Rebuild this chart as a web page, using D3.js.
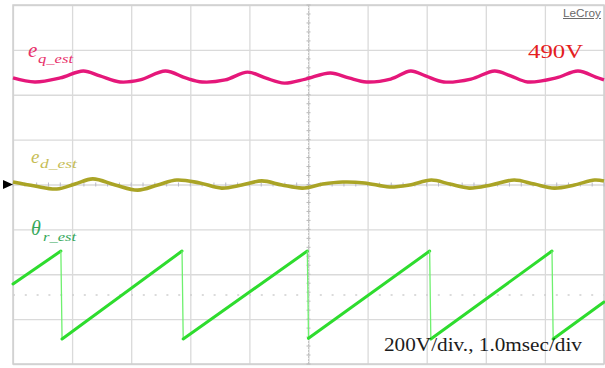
<!DOCTYPE html>
<html>
<head>
<meta charset="utf-8">
<script src="https://cdn.jsdelivr.net/npm/d3@7"></script>
<style>
  html, body { margin: 0; padding: 0; background: #fff; }
  svg { display: block; }
</style>
</head>
<body>
<svg id="scope" width="605" height="368"></svg>
<script>
// Time base: 10 divisions of 1.0 ms; vertical: 8 divisions of 200 V
const timeTicks = [0, 1, 2, 3, 4, 5, 6, 7, 8, 9, 10];
const voltTicks = [-800, -600, -400, -200, 0, 200, 400, 600, 800];

// q-axis back-EMF estimate [ms, V]
const eqEst = [
  [0, 475], [0.37, 457], [0.80, 475], [1.19, 506], [1.47, 484], [1.81, 457],
  [2.15, 466], [2.58, 506], [2.92, 475], [3.20, 457], [3.59, 466], [3.97, 501],
  [4.27, 475], [4.59, 452], [4.95, 470], [5.37, 497], [5.68, 475], [5.98, 457],
  [6.39, 470], [6.73, 506], [6.98, 484], [7.29, 457], [7.75, 470], [8.15, 506],
  [8.42, 484], [8.71, 457], [9.19, 475], [9.56, 506], [9.86, 479], [10, 466]
];

// d-axis back-EMF estimate [ms, V]
const edEst = [
  [0, 11], [0.37, -7], [0.74, -20], [1.05, 2], [1.35, 25], [1.73, -2],
  [2.11, -25], [2.45, -2], [2.77, 20], [3.16, 7], [3.53, -16], [3.87, -2],
  [4.21, 16], [4.55, -2], [4.90, -16], [5.24, 2], [5.58, 11], [5.95, 7],
  [6.37, -11], [6.71, -2], [7.08, 20], [7.39, 2], [7.72, -16], [8.09, -2],
  [8.48, 20], [8.82, 2], [9.16, -16], [9.50, -2], [9.84, 20], [10, 16]
];

// Estimated rotor angle [ms, rad]
const thetaEst = [
  [0, 3.93], [0.81, 6.28], [0.83, 0.0], [2.86, 6.28], [2.88, 0.0],
  [4.98, 6.28], [5.00, 0.05], [7.05, 6.28], [7.07, 0.0], [9.12, 6.28],
  [9.14, 0.0], [10, 2.64]
];

const eqLevel = "490V";
const scaleNote = "200V/div., 1.0msec/div";

const svg = d3.select("#scope");
const L = 13, R = 604, T = 5, B = 364;

const x = d3.scaleLinear().domain([0, 10]).range([L, R]);
const y = d3.scaleLinear().domain([-800, 800]).range([B, T]);
const yTheta = d3.scaleLinear().domain([0, 2 * Math.PI]).range([339, 251]);

// graticule
const grid = svg.append("g");
grid.append("g")
  .attr("transform", `translate(0,${T})`)
  .call(d3.axisTop(x).tickValues(timeTicks).tickSize(-(B - T)).tickFormat(""))
  .call(g => g.select(".domain").remove())
  .call(g => g.selectAll("line").attr("stroke", "#dadada").attr("stroke-width", 1.3));
grid.append("g")
  .attr("transform", `translate(${L},0)`)
  .call(d3.axisLeft(y).tickValues(voltTicks).tickSize(-(R - L)).tickFormat(""))
  .call(g => g.select(".domain").remove())
  .call(g => g.selectAll("line").attr("stroke", "#dadada").attr("stroke-width", 1.3));
grid.append("rect")
  .attr("x", L).attr("y", T).attr("width", R - L).attr("height", B - T)
  .attr("fill", "none").attr("stroke", "#cfcfcf").attr("stroke-width", 1.5);

// centre crosshair with minor ticks
const minorT = d3.range(0, 10.01, 0.2);
const minorV = d3.range(-800, 800.1, 40);
grid.append("line")
  .attr("x1", x(5)).attr("x2", x(5)).attr("y1", T).attr("y2", B)
  .attr("stroke", "#c4c4c4").attr("stroke-width", 1).attr("stroke-dasharray", "2,1");
grid.selectAll(".vt").data(minorV).join("line")
  .attr("x1", x(5) - 2).attr("x2", x(5) + 2)
  .attr("y1", d => y(d)).attr("y2", d => y(d))
  .attr("stroke", "#b8b8b8");
grid.selectAll(".ht").data(minorT).join("line")
  .attr("x1", d => x(d)).attr("x2", d => x(d))
  .attr("y1", y(0) - 2).attr("y2", y(0) + 2)
  .attr("stroke", "#b8b8c8");

// rotor-angle mid reference (dotted)
grid.append("line")
  .attr("x1", L).attr("x2", R)
  .attr("y1", yTheta(Math.PI)).attr("y2", yTheta(Math.PI))
  .attr("stroke", "#cfcfcf").attr("stroke-width", 1.3)
  .attr("stroke-dasharray", "2,9.8");

// e_d ground marker
svg.append("path")
  .attr("d", d3.line()([[3, y(0) - 4.5], [13, y(0)], [3, y(0) + 4.5]]) + "Z")
  .attr("fill", "#000");

// traces
const curve = d3.curveCatmullRom.alpha(0.5);
const vLine = d3.line().x(d => x(d[0])).y(d => y(d[1])).curve(curve);

svg.append("path").datum(eqEst)
  .attr("d", vLine).attr("fill", "none")
  .attr("stroke", "#e5177a").attr("stroke-width", 3.4)
  .attr("stroke-linejoin", "round");

svg.append("path").datum(edEst)
  .attr("d", vLine).attr("fill", "none")
  .attr("stroke", "#aaa426").attr("stroke-width", 3.6)
  .attr("stroke-linejoin", "round");

// rotor angle: rising ramps thick, wrap-around jumps thin
const pairs = d3.pairs(thetaEst);
svg.selectAll(".th").data(pairs).join("line")
  .attr("x1", d => x(d[0][0])).attr("y1", d => yTheta(d[0][1]))
  .attr("x2", d => x(d[1][0])).attr("y2", d => yTheta(d[1][1]))
  .attr("stroke", d => d[1][1] < d[0][1] ? "#6ff06f" : "#2edc2e")
  .attr("stroke-width", d => d[1][1] < d[0][1] ? 1.3 : 3)
  .attr("stroke-linecap", "round");

// labels
const serif = "'Liberation Serif', 'Times New Roman', serif";
function label(base, sub, opts) {
  svg.append("text")
    .attr("x", opts.x).attr("y", opts.y)
    .attr("font-family", serif).attr("font-style", "italic")
    .attr("font-size", opts.size).attr("fill", opts.color)
    .text(base);
  svg.append("text")
    .attr("x", opts.sx).attr("y", opts.sy)
    .attr("font-family", serif).attr("font-style", "italic")
    .attr("font-size", 12).attr("fill", opts.color)
    .attr("textLength", opts.sw).attr("lengthAdjust", "spacingAndGlyphs")
    .text(sub);
}
label("e", "q_est", { x: 28, y: 57, size: 21, color: "#e8306a", sx: 38, sy: 63, sw: 35 });
label("e", "d_est", { x: 31, y: 163, size: 19, color: "#c6bd55", sx: 40, sy: 168, sw: 37 });
label("θ", "r_est", { x: 31, y: 235, size: 20, color: "#36a85a", sx: 43, sy: 241, sw: 33 });

svg.append("text")
  .attr("x", 528).attr("y", 58)
  .attr("font-family", serif).attr("font-size", 18).attr("fill", "#e4201e")
  .attr("textLength", 55).attr("lengthAdjust", "spacingAndGlyphs")
  .text(eqLevel);

svg.append("text")
  .attr("x", 384).attr("y", 351)
  .attr("font-family", serif).attr("font-size", 18).attr("fill", "#1c1c1c")
  .attr("textLength", 198).attr("lengthAdjust", "spacingAndGlyphs")
  .text(scaleNote);

svg.append("text")
  .attr("x", 563).attr("y", 17)
  .attr("font-family", "'Liberation Sans', Arial, sans-serif").attr("font-size", 10)
  .attr("fill", "#6a6a6a").attr("text-decoration", "underline")
  .attr("textLength", 38).attr("lengthAdjust", "spacingAndGlyphs")
  .text("LeCroy");
</script>
</body>
</html>
